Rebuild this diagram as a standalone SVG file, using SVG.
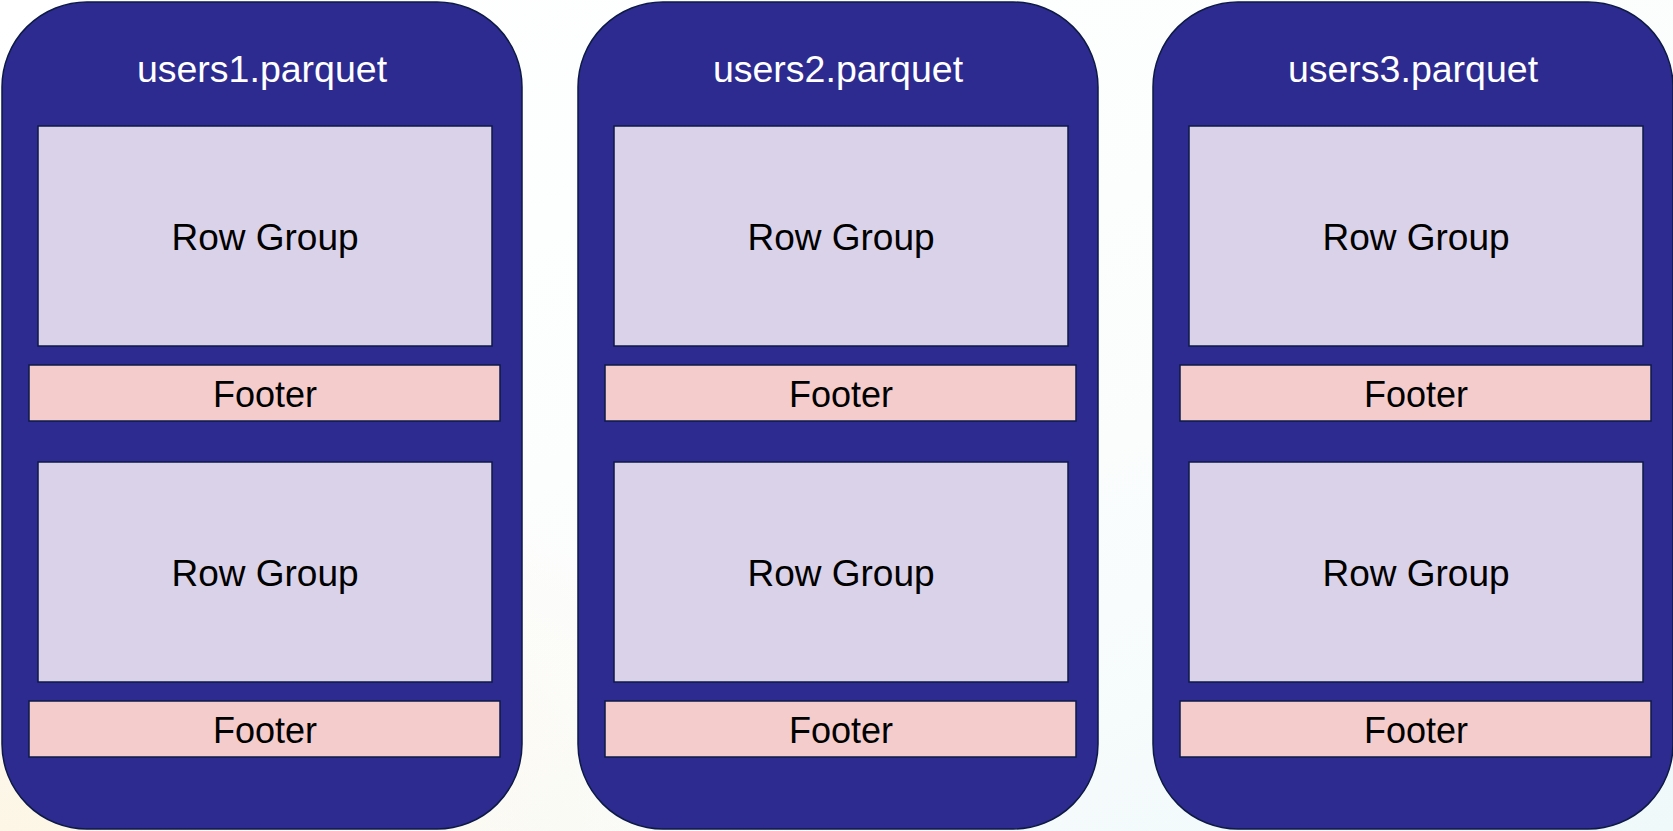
<svg xmlns="http://www.w3.org/2000/svg" width="1673" height="831" viewBox="0 0 1673 831">
  <defs>
    <linearGradient id="bg" x1="0" y1="0" x2="1" y2="1">
      <stop offset="0" stop-color="#ffffff"/>
      <stop offset="0.6" stop-color="#fbfdfd"/>
      <stop offset="1" stop-color="#eff9fa"/>
    </linearGradient>
    <radialGradient id="warm" cx="0" cy="1" r="0.5">
      <stop offset="0" stop-color="#fdf6e6" stop-opacity="1"/>
      <stop offset="1" stop-color="#fdf6e6" stop-opacity="0"/>
    </radialGradient>
  </defs>
  <style>
    .file { fill: #2e2b90; stroke: #0d1a45; stroke-width: 1.5; }
    .rg { fill: #dad2e8; stroke: #0d1a45; stroke-width: 1.5; }
    .ft { fill: #f4cccc; stroke: #0d1a45; stroke-width: 1.5; }
    text { font-family: "Liberation Sans", Arial, sans-serif; font-size: 36px; text-anchor: middle; }
    .title { fill: #ffffff; font-size: 37.5px; }
    .lbl { fill: #000000; }
    .rgl { font-size: 37px; }
  </style>
  <rect x="0" y="0" width="1673" height="831" fill="url(#bg)"/>
  <rect x="0" y="0" width="1673" height="831" fill="url(#warm)"/>

  <g id="file1">
    <rect class="file" x="2" y="2" width="520" height="827" rx="85" ry="85"/>
    <text class="title" x="262" y="82">users1.parquet</text>
    <g id="file1-rowgroup1">
      <rect class="rg" x="38" y="126" width="454" height="220"/>
      <text class="lbl rgl" x="265" y="250">Row Group</text>
    </g>
    <g id="file1-footer1">
      <rect class="ft" x="29" y="365" width="471" height="56"/>
      <text class="lbl" x="265" y="407">Footer</text>
    </g>
    <g id="file1-rowgroup2">
      <rect class="rg" x="38" y="462" width="454" height="220"/>
      <text class="lbl rgl" x="265" y="586">Row Group</text>
    </g>
    <g id="file1-footer2">
      <rect class="ft" x="29" y="701" width="471" height="56"/>
      <text class="lbl" x="265" y="743">Footer</text>
    </g>
  </g>

  <g id="file2" transform="translate(576,0)">
    <rect class="file" x="2" y="2" width="520" height="827" rx="85" ry="85"/>
    <text class="title" x="262" y="82">users2.parquet</text>
    <g id="file2-rowgroup1">
      <rect class="rg" x="38" y="126" width="454" height="220"/>
      <text class="lbl rgl" x="265" y="250">Row Group</text>
    </g>
    <g id="file2-footer1">
      <rect class="ft" x="29" y="365" width="471" height="56"/>
      <text class="lbl" x="265" y="407">Footer</text>
    </g>
    <g id="file2-rowgroup2">
      <rect class="rg" x="38" y="462" width="454" height="220"/>
      <text class="lbl rgl" x="265" y="586">Row Group</text>
    </g>
    <g id="file2-footer2">
      <rect class="ft" x="29" y="701" width="471" height="56"/>
      <text class="lbl" x="265" y="743">Footer</text>
    </g>
  </g>

  <g id="file3" transform="translate(1151,0)">
    <rect class="file" x="2" y="2" width="520" height="827" rx="85" ry="85"/>
    <text class="title" x="262" y="82">users3.parquet</text>
    <g id="file3-rowgroup1">
      <rect class="rg" x="38" y="126" width="454" height="220"/>
      <text class="lbl rgl" x="265" y="250">Row Group</text>
    </g>
    <g id="file3-footer1">
      <rect class="ft" x="29" y="365" width="471" height="56"/>
      <text class="lbl" x="265" y="407">Footer</text>
    </g>
    <g id="file3-rowgroup2">
      <rect class="rg" x="38" y="462" width="454" height="220"/>
      <text class="lbl rgl" x="265" y="586">Row Group</text>
    </g>
    <g id="file3-footer2">
      <rect class="ft" x="29" y="701" width="471" height="56"/>
      <text class="lbl" x="265" y="743">Footer</text>
    </g>
  </g>

  <g id="connectors"/>
</svg>
